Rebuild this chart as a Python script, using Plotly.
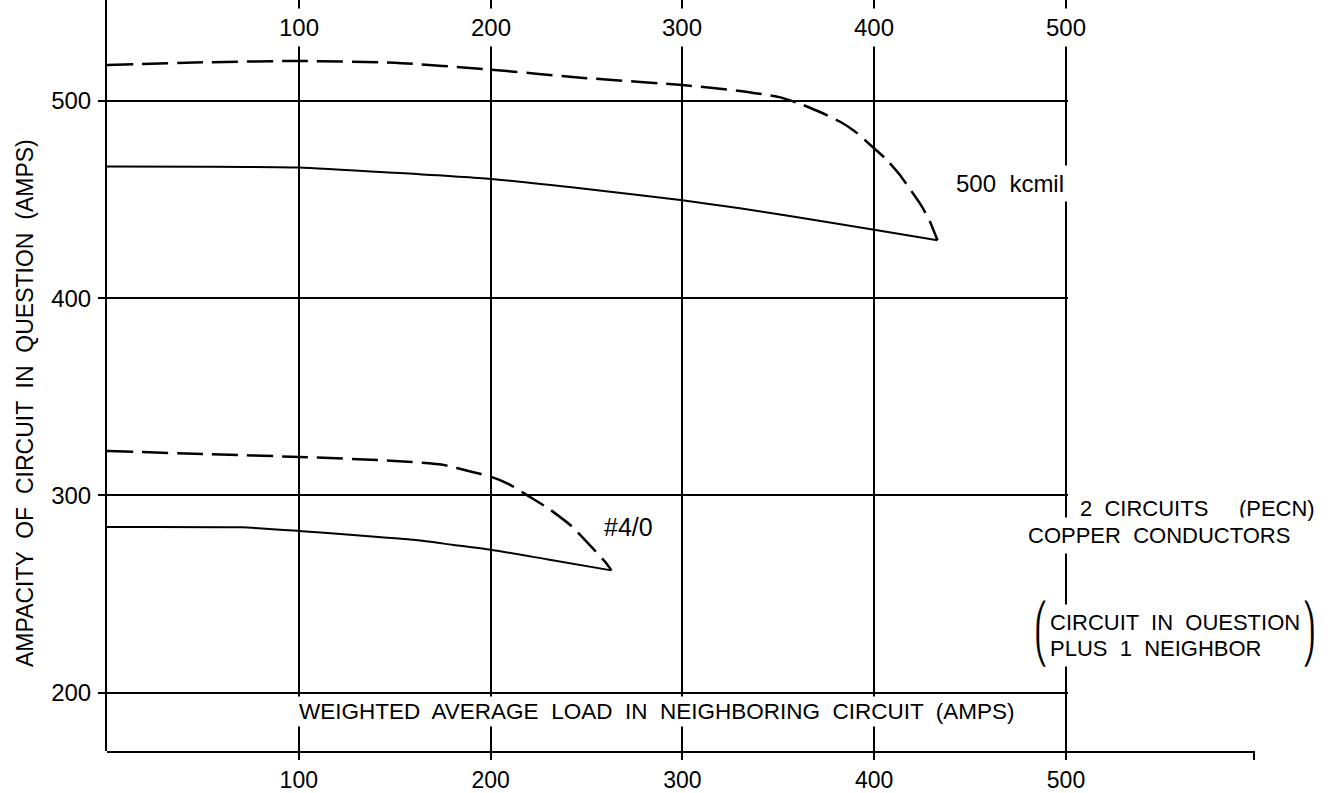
import plotly.graph_objects as go

# ---------------- data ----------------
# x: weighted average load in neighbouring circuit (A); y: ampacity of circuit in question (A)
kcmil500_solid_x = [0, 50, 100, 150, 200, 250, 300, 330, 360, 400, 433]
kcmil500_solid_y = [466.7, 466.6, 466.2, 463.5, 460.4, 455.3, 449.6, 445.5, 441.0, 434.7, 429.3]

kcmil500_dash_x = [0, 50, 100, 150, 200, 250, 300, 330, 350, 360, 372, 382, 390, 397,
                   406, 413, 420, 424.5, 429, 433]
kcmil500_dash_y = [518.2, 519.5, 520.2, 519.3, 515.8, 511.5, 508.0, 505.0, 502.0, 499.0,
                   494.2, 489.5, 484.5, 478.5, 470.6, 462.9, 453.4, 447.0, 439.0, 429.3]

awg40_solid_x = [0, 70, 100, 130, 160, 180, 200, 230, 263]
awg40_solid_y = [284.0, 283.8, 282.0, 279.8, 277.5, 275.0, 272.5, 267.5, 262.0]

awg40_dash_x = [0, 50, 100, 150, 175, 190, 200, 210, 220, 230, 242, 252, 260, 263]
awg40_dash_y = [322.5, 321.0, 319.5, 317.5, 315.5, 312.0, 309.5, 305.5, 299.5, 293.5,
                284.6, 274.5, 266.0, 262.0]

x_tickvals = [100, 200, 300, 400, 500]
x_ticktext = ["100", "200", "300", "400", "500"]
y_tickvals = [200, 300, 400, 500]
y_ticktext = ["200", "300", "400", "500"]

curve_labels = {"kcmil": "500  kcmil", "awg": "#4/0"}
y_title = "AMPACITY  OF  CIRCUIT  IN  QUESTION  (AMPS)"
x_title = "WEIGHTED  AVERAGE  LOAD  IN  NEIGHBORING  CIRCUIT  (AMPS)"
note_1 = "2  CIRCUITS     (PECN)"
note_2 = "COPPER  CONDUCTORS"
note_3 = "CIRCUIT  IN  QUESTION"
note_4 = "PLUS  1  NEIGHBOR"

# ---------------- layout geometry ----------------
W, H = 1335, 793
L, R, T, B = 107, 1255, 0, 751          # plot area in pixels
PW, PH = R - L, B - T


def px(xp):
    return (xp - L) / PW


def py(yp):
    return (B - yp) / PH


FONT = "Liberation Sans, Arial, sans-serif"
solid = dict(color="black", width=2)
dashed = dict(color="black", width=2.5, dash="26px,9px")

fig = go.Figure()
fig.add_trace(go.Scatter(x=kcmil500_dash_x, y=kcmil500_dash_y, mode="lines",
                         line=dict(**dashed, shape="spline", smoothing=0.5)))
fig.add_trace(go.Scatter(x=kcmil500_solid_x, y=kcmil500_solid_y, mode="lines",
                         line=dict(**solid, shape="spline", smoothing=0.5)))
fig.add_trace(go.Scatter(x=awg40_dash_x, y=awg40_dash_y, mode="lines",
                         line=dict(**dashed, shape="spline", smoothing=0.5)))
fig.add_trace(go.Scatter(x=awg40_solid_x, y=awg40_solid_y, mode="lines",
                         line=dict(**solid, shape="spline", smoothing=0.5)))
# empty trace so the long bottom axis subplot exists
fig.add_trace(go.Scatter(x=[], y=[], xaxis="x2", yaxis="y2", mode="lines"))

px_per_unit = 959 / 500.0
x_end = 501
dom_end = x_end * px_per_unit / PW

fig.update_layout(
    width=W, height=H,
    margin=dict(l=L, r=W - R, t=T, b=H - B, pad=0, autoexpand=False),
    paper_bgcolor="white", plot_bgcolor="rgba(0,0,0,0)",
    showlegend=False,
    font=dict(family=FONT, color="black", size=22),
    xaxis=dict(domain=[0, dom_end], range=[0, x_end], tickvals=x_tickvals,
               showticklabels=False, ticks="", showgrid=True, gridcolor="black",
               gridwidth=2, zeroline=False, showline=False, anchor="y",
               automargin=False),
    yaxis=dict(domain=[0, 1], range=[170.45, 551.1], tickvals=y_tickvals,
               ticktext=y_ticktext, ticks="outside", ticklen=7, tickwidth=2,
               tickcolor="black", showline=True, linecolor="black", linewidth=2,
               showgrid=True, gridcolor="black", gridwidth=2, zeroline=False,
               tickfont=dict(size=24), ticklabelstandoff=2, anchor="x",
               automargin=False),
    xaxis2=dict(domain=[0, 1], range=[0, PW / px_per_unit], anchor="y2",
                tickvals=x_tickvals + [598], ticktext=x_ticktext + [""],
                ticks="outside", ticklen=7, tickwidth=2, tickcolor="black",
                showline=True, linewidth=2, linecolor="black", showgrid=False,
                zeroline=False, tickfont=dict(size=23), automargin=False),
    yaxis2=dict(domain=[0, 1], range=[0, 1], anchor="x2", visible=False,
                automargin=False),
)

ann = []
# top tick labels (interrupt the vertical grid lines)
for v, t in zip(x_tickvals, x_ticktext):
    ann.append(dict(x=v, xref="x", y=py(27), yref="paper", text=t, showarrow=False,
                    xanchor="center", yanchor="middle", font=dict(size=24),
                    bgcolor="white", borderpad=5))
# y axis title
ann.append(dict(x=px(25), y=py(403), xref="paper", yref="paper", text=y_title,
                textangle=-90, showarrow=False, xanchor="center", yanchor="middle",
                font=dict(size=23)))
# x axis title inside the plot
ann.append(dict(x=100, xref="x", xanchor="left", xshift=-3, y=py(711), yref="paper",
                yanchor="middle", text=x_title, showarrow=False, bgcolor="white",
                borderpad=2, font=dict(size=22.5)))
# curve labels
ann.append(dict(x=500, xref="x", xanchor="right", xshift=3, y=458.3, yref="y",
                yanchor="middle", text=curve_labels["kcmil"], showarrow=False,
                bgcolor="white", borderpad=4, font=dict(size=24)))
ann.append(dict(x=258.0, xref="x", xanchor="left", y=284.0, yref="y",
                yanchor="middle", text=curve_labels["awg"], showarrow=False,
                font=dict(size=25)))
# notes on the right
ann.append(dict(x=px(1076), y=py(508), xref="paper", yref="paper", xanchor="left",
                yanchor="middle", text=note_1, showarrow=False, bgcolor="white",
                borderpad=3, font=dict(size=22)))
ann.append(dict(x=px(1022), y=py(535), xref="paper", yref="paper", xanchor="left",
                yanchor="middle", text=note_2, showarrow=False, bgcolor="white",
                borderpad=5, font=dict(size=22)))
ann.append(dict(x=px(1044), y=py(622.5), xref="paper", yref="paper", xanchor="left",
                yanchor="middle", text=note_3, showarrow=False, bgcolor="white",
                borderpad=5, font=dict(size=22)))
ann.append(dict(x=px(1044), y=py(648.5), xref="paper", yref="paper", xanchor="left",
                yanchor="middle", text=note_4, showarrow=False, bgcolor="white",
                borderpad=5, font=dict(size=22)))
# large brackets around the last note
for ch, xc, yc in [("\u239B", 1041, 617), ("\u239D", 1041, 650),
                   ("\u239E", 1309, 617), ("\u23A0", 1309, 650)]:
    ann.append(dict(x=px(xc), y=py(yc), xref="paper", yref="paper", xanchor="center",
                    yanchor="middle", text=ch, showarrow=False,
                    font=dict(size=28, family="DejaVu Sans")))

fig.update_layout(annotations=ann)
fig.write_html("out.html", config={"displayModeBar": False},
               post_script="document.body.style.margin='0px';"
                           "document.body.style.overflow='hidden';")
